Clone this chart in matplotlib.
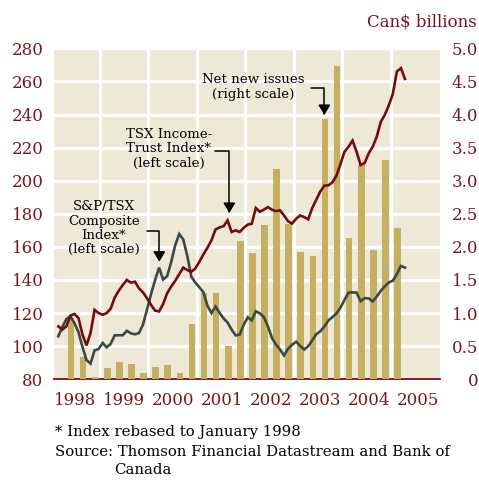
import numpy as np
import matplotlib
matplotlib.use("Agg")
import matplotlib.pyplot as plt

# ---------------- data ----------------
quarters = [f"{y}Q{q}" for y in range(1998, 2005) for q in range(1, 5)]
net_issues = [0.93, 0.34, 0.04, 0.17, 0.26, 0.23, 0.10, 0.19, 0.22, 0.10,
              0.83, 1.31, 1.31, 0.51, 2.09, 1.91, 2.33, 3.17, 2.35, 1.93,
              1.86, 3.93, 4.73, 2.14, 3.24, 1.95, 3.32, 2.28]

income_trust = [112, 110, 112, 118.5, 119.5, 117, 107, 100.5, 108, 122,
                120, 119, 120, 122.7, 129.5, 133.5, 137, 140, 138.4, 139,
                135, 132.5, 129, 125, 121.5, 121, 125.5, 132, 136, 139.5,
                143.5, 147.5, 146, 145, 147, 151, 155.5, 159.5, 164, 170.5,
                171.8, 172.5, 176, 169, 170, 169, 171.5, 173.5, 174, 183.5,
                181.2, 182.5, 184, 182.5, 181.6, 182.1, 179, 175.5, 174.1, 177,
                179, 178, 176.7, 183.5, 188.5, 193.5, 197, 197.2, 199, 203,
                210, 217.5, 220.5, 224.2, 217.5, 209.5, 210.7, 216.5, 220.5, 226.5,
                235.5, 239.8, 245.5, 252.5, 266, 268, 261.5]

sp_tsx = [106, 111.6, 116.4, 118, 114, 108.5, 99.5, 91.6, 89.5, 97.5,
          98.3, 102, 99.3, 101.5, 106.6, 106.6, 106.6, 109.3, 107.8, 107.2,
          107.9, 113, 122, 131.5, 139.8, 147.5, 140.3, 142.3, 150.8, 161,
          167.8, 164.5, 154.5, 142, 138.4, 135.6, 132.6, 124.5, 120, 124,
          120.2, 116.8, 114.3, 110, 106.5, 107, 113, 117.5, 115.6, 121.1,
          119.8, 117.6, 112, 105, 101, 98, 94.4, 98.4, 100.9, 102.7,
          100.2, 98, 100, 103.5, 107.2, 109, 111.9, 115.6, 117.5, 119.8,
          123.2, 128, 132.4, 132.5, 132.4, 127.2, 129, 128.9, 127, 130,
          133.4, 136.2, 138.5, 139.6, 143.6, 148.5, 147.5]

year_labels = ["1998", "1999", "2000", "2001", "2002", "2003", "2004", "2005"]
left_ticks = list(range(80, 281, 20))
right_ticks = [0, 0.5, 1.0, 1.5, 2.0, 2.5, 3.0, 3.5, 4.0, 4.5, 5.0]
right_labels = ["0", "0.5", "1.0", "1.5", "2.0", "2.5", "3.0", "3.5", "4.0", "4.5", "5.0"]

# ---------------- style ----------------
FONT = "DejaVu Serif"
BG = "#EEE9D7"
BAR = "#C4B060"
RED = "#760A10"
GRAY = "#3A4944"
TICK = "#7A161B"

W, H = 479, 493
fig = plt.figure(figsize=(W / 100, H / 100), dpi=100)
fig.patch.set_facecolor("white")

ax = fig.add_axes([54 / W, 1 - 379.3 / H, 386 / W, 331 / H])
ax.set_facecolor(BG)

months = np.arange(len(income_trust))
bar_x = 3.15 + 3 * np.arange(len(quarters))
grid_x = 10.35 + 12.02 * np.arange(7)
label_x = 4.2 + 12.15 * np.arange(len(year_labels))

ax.bar(bar_x, net_issues, width=1.65, color=BAR, zorder=3)
ax.set_ylim(0, 5)
ax.set_xlim(-1.07, 94.7)

ax.set_xticks(label_x)
ax.set_xticklabels(year_labels)
ax.set_xticks(grid_x, minor=True)
ax.tick_params(axis="x", which="both", length=0)
ax.tick_params(axis="x", which="major", pad=9, labelsize=12, labelcolor=TICK)
for lab in ax.get_xticklabels():
    lab.set_fontfamily(FONT)

ax.grid(axis="y", which="major", color="white", lw=2.2, zorder=1)
ax.grid(axis="x", which="minor", color="white", lw=2.2, zorder=1)
ax.set_axisbelow(True)

for s in ["top", "left", "right"]:
    ax.spines[s].set_visible(False)
ax.spines["bottom"].set_color(RED)
ax.spines["bottom"].set_linewidth(1.3)

# twin axis for the index lines (left scale)
ax2 = ax.twinx()
ax2.yaxis.tick_left()
ax2.set_ylim(80, 280)
ax2.set_xlim(-1.07, 94.7)
ax2.set_yticks(left_ticks)
ax2.tick_params(axis="y", length=0, pad=7.5, labelsize=12, labelcolor=TICK)
for lab in ax2.get_yticklabels():
    lab.set_fontfamily(FONT)
for s in ax2.spines.values():
    s.set_visible(False)

# right scale labels on the bar axis (after twinx, which resets ticks)
ax.yaxis.tick_right()
ax.set_yticks(right_ticks)
ax.set_yticklabels(right_labels)
ax.tick_params(axis="y", length=0, pad=27.4, labelsize=12, labelcolor=TICK,
               left=False, labelleft=False, right=False, labelright=True)
for t in ax.yaxis.get_major_ticks():
    t.label2.set_horizontalalignment("right")
    t.label2.set_fontfamily(FONT)

ax2.plot(months, sp_tsx, color=GRAY, lw=1.9, solid_joinstyle="miter", zorder=4)
ax2.plot(months, income_trust, color=RED, lw=1.9, solid_joinstyle="miter", zorder=5)

# ---------------- annotations ----------------
def px2data(px, py):
    return (px - 58.3) / 4.03, 80 + (379.3 - py) / 1.655

def bracket(start, tip):
    sx, sy = px2data(*start)
    tx, ty = px2data(*tip)
    ax2.annotate("", xy=(tx, ty), xytext=(sx, sy),
                 arrowprops=dict(arrowstyle="-|>,head_length=0.6,head_width=0.36",
                                 mutation_scale=10, color="black", lw=1.1,
                                 shrinkA=0, shrinkB=0,
                                 connectionstyle="angle,angleA=0,angleB=90,rad=0"),
                 zorder=6)

def label(px, py, text, ls):
    fig.text(px / W, 1 - py / H, text, ha="center", va="center",
             fontsize=9.6, family=FONT, color="black", linespacing=ls)

label(253, 86.7, "Net new issues\n(right scale)", 1.22)
bracket((311, 87.7), (324.3, 115))

label(169, 148.9, "TSX Income-\nTrust Index*\n(left scale)", 1.12)
bracket((215, 150.7), (229.3, 213))

label(104, 228.2, "S&P/TSX\nComposite\nIndex*\n(left scale)", 1.12)
bracket((146.7, 230.7), (159.3, 261.7))

fig.text(477 / W, 1 - 22 / H, "Can$ billions", ha="right", va="center",
         fontsize=12, family=FONT, color=TICK)

fig.text(55 / W, 1 - 432 / H, "* Index rebased to January 1998", ha="left",
         va="center", fontsize=10.7, family=FONT, color="black")
fig.text(55 / W, 1 - 452 / H, "Source: Thomson Financial Datastream and Bank of",
         ha="left", va="center", fontsize=10.7, family=FONT, color="black")
fig.text(114.3 / W, 1 - 470 / H, "Canada", ha="left", va="center",
         fontsize=10.7, family=FONT, color="black")

fig.savefig("out.png", dpi=100, facecolor="white")
